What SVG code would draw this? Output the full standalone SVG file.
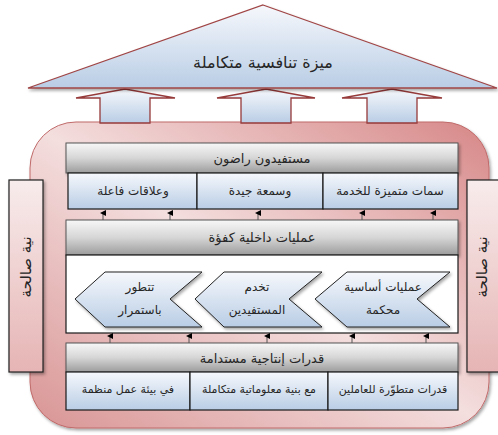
<svg xmlns="http://www.w3.org/2000/svg" width="498" height="435" viewBox="0 0 498 435">
<defs>
<linearGradient id="gBig" x1="0" y1="1" x2="1" y2="0">
<stop offset="0" stop-color="#d99494"/>
<stop offset="0.5" stop-color="#f4dede"/>
<stop offset="1" stop-color="#d78787"/>
</linearGradient>
<linearGradient id="gBlue" x1="0" y1="0" x2="0" y2="1">
<stop offset="0" stop-color="#f6f8fc"/>
<stop offset="1" stop-color="#b9cde5"/>
</linearGradient>
<linearGradient id="gGray" x1="0" y1="0" x2="0" y2="1">
<stop offset="0" stop-color="#f7f7f7"/>
<stop offset="0.5" stop-color="#d6d6d6"/>
<stop offset="1" stop-color="#9c9c9c"/>
</linearGradient>
<linearGradient id="gSide" x1="0" y1="0" x2="0" y2="1">
<stop offset="0" stop-color="#f8ecec"/>
<stop offset="1" stop-color="#e6b4b4"/>
</linearGradient>
<filter id="sh" x="-10%" y="-10%" width="130%" height="130%">
<feDropShadow dx="1.5" dy="2" stdDeviation="1.5" flood-color="#000" flood-opacity="0.35"/>
</filter>
<marker id="ah" markerWidth="6" markerHeight="6" refX="3" refY="3" orient="auto" markerUnits="userSpaceOnUse">
<path d="M0,6 L3,0 L6,6 Z" fill="#000"/>
</marker>
<style>
text{font-family:"DejaVu Sans","Noto Sans",sans-serif;fill:#262626;text-anchor:middle;dominant-baseline:central}
.hd{fill:url(#gGray);stroke:#555;stroke-width:1}
.sb{fill:url(#gBlue);stroke:#1a1a1a;stroke-width:1.2}
.ar{fill:url(#gBlue);stroke:#963a3a;stroke-width:1.3}
.sd{fill:url(#gSide);stroke:#222;stroke-width:1.2}
.cv{fill:url(#gBlue);stroke:#222;stroke-width:1}
.t12{font-size:12px}
.t13{font-size:13px}
.t11{font-size:11px}
.sm{stroke:#555;stroke-width:1;marker-end:url(#ah)}
</style>
</defs>

<g id="frame">
<rect x="30" y="122" width="459" height="306" rx="46" ry="46" fill="url(#gBig)" stroke="#c06a6a" stroke-width="1" filter="url(#sh)"/>
</g>

<g id="up-arrows">
<polygon class="ar" points="100,123 100,98 76,98 125,89 175,98 150,98 150,123"/>
<polygon class="ar" points="241,123 241,98 217,98 266,89 315,98 291,98 291,123"/>
<polygon class="ar" points="367,123 367,98 342,98 392,89 442,98 417,98 417,123"/>
</g>

<g id="roof">
<polygon points="263,5 497,88 28,88" fill="url(#gBlue)" stroke="#a04545" stroke-width="1.3" filter="url(#sh)"/>
<text x="263" y="62" style="font-size:16px">ميزة تنافسية متكاملة</text>
</g>

<g id="side-left">
<rect class="sd" x="9" y="180" width="34" height="192" filter="url(#sh)"/>
<text transform="translate(26,267) rotate(-90)" style="font-size:15px">نية صالحة</text>
</g>
<g id="side-right">
<rect class="sd" x="467" y="180" width="40" height="192" filter="url(#sh)"/>
<text transform="translate(482,267) rotate(-90)" style="font-size:15px">نية صالحة</text>
</g>

<g id="beneficiaries">
<rect class="hd" x="66" y="143" width="392" height="30" filter="url(#sh)"/>
<text class="t13" x="262" y="158">مستفيدون راضون</text>
</g>
<g id="b1"><rect class="sb" x="68" y="173" width="129" height="36"/><text class="t12" x="133" y="191">وعلاقات فاعلة</text></g>
<g id="b2"><rect class="sb" x="197" y="173" width="126" height="36"/><text class="t12" x="260" y="191">وسمعة جيدة</text></g>
<g id="b3"><rect class="sb" x="323" y="173" width="135" height="36"/><text class="t12" x="390" y="191">سمات متميزة للخدمة</text></g>

<g id="processes">
<rect class="hd" x="66" y="220" width="392" height="35" filter="url(#sh)"/>
<text class="t13" x="262" y="237">عمليات داخلية كفؤة</text>
<rect x="66" y="255" width="392" height="78" fill="#fff" stroke="#1a1a1a" stroke-width="1.2"/>
</g>
<g id="c1">
<polygon class="cv" points="75,299 105,272 202,272 170,299 202,327 105,327" filter="url(#sh)"/>
<text class="t12" x="140" y="287">تتطور</text><text class="t12" x="140" y="310">باستمرار</text>
</g>
<g id="c2">
<polygon class="cv" points="195,299 224,272 322,272 289,299 322,327 224,327" filter="url(#sh)"/>
<text class="t12" x="257" y="287">تخدم</text><text class="t12" x="257" y="310">المستفيدين</text>
</g>
<g id="c3">
<polygon class="cv" points="315,299 347,272 450,272 417,299 450,327 347,327" filter="url(#sh)"/>
<text class="t12" x="383" y="287">عمليات أساسية</text><text class="t12" x="383" y="310">محكمة</text>
</g>

<g id="capabilities">
<rect class="hd" x="66" y="343" width="392" height="29" filter="url(#sh)"/>
<text class="t13" x="262" y="358">قدرات إنتاجية مستدامة</text>
</g>
<g id="d1"><rect class="sb" x="66" y="372" width="124" height="38"/><text class="t11" x="128" y="389">في بيئة عمل منظمة</text></g>
<g id="d2"><rect class="sb" x="190" y="372" width="138" height="38"/><text class="t11" x="259" y="389">مع بنية معلوماتية متكاملة</text></g>
<g id="d3"><rect class="sb" x="328" y="372" width="130" height="38"/><text class="t11" x="393" y="389">قدرات متطوّرة للعاملين</text></g>

<g id="connectors">
<line class="sm" x1="103" y1="220" x2="103" y2="213"/>
<line class="sm" x1="170" y1="220" x2="170" y2="213"/>
<line class="sm" x1="258" y1="220" x2="258" y2="213"/>
<line class="sm" x1="362" y1="220" x2="362" y2="213"/>
<line class="sm" x1="433" y1="220" x2="433" y2="213"/>
<line class="sm" x1="110" y1="343" x2="110" y2="336"/>
<line class="sm" x1="189" y1="343" x2="189" y2="336"/>
<line class="sm" x1="267" y1="343" x2="267" y2="336"/>
<line class="sm" x1="352" y1="343" x2="352" y2="336"/>
<line class="sm" x1="426" y1="343" x2="426" y2="336"/>
</g>
</svg>
